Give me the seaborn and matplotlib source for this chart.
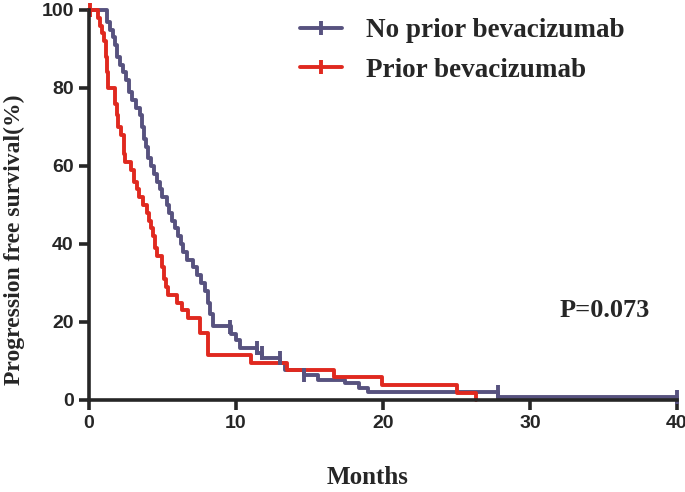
import pandas as pd
import matplotlib
matplotlib.use("Agg")
import matplotlib.pyplot as plt
from matplotlib.lines import Line2D
import seaborn as sns

# step points (months, % progression free)
no_prior_months = [0, 1.22, 1.43, 1.63, 1.77, 1.90, 2.11, 2.31, 2.52, 2.72, 2.93, 3.20,
                   3.47, 3.61, 3.74, 3.88, 4.01, 4.22, 4.42, 4.63, 4.83, 4.97, 5.31,
                   5.44, 5.65, 5.85, 6.05, 6.26, 6.39, 6.67, 7.07, 7.35, 7.62, 7.89,
                   8.10, 8.23, 8.44, 9.66, 10.0, 10.3, 11.4, 11.8, 13.0, 13.3, 14.6,
                   15.6, 17.4, 18.4, 19.0, 27.8, 40.0]
no_prior_surv = [100, 97, 95, 93, 91, 88, 86, 84, 82, 79, 77, 75,
                 73, 70, 67, 65, 62, 60, 58, 56, 54, 52, 50,
                 48, 46, 44, 42, 40, 38, 36, 34, 32, 30, 28,
                 25, 22, 19, 17, 15.4, 13.3, 12, 10.8, 9.5, 7.7, 6.4,
                 5.1, 4.4, 3.0, 2.0, 0.85, 0.85]

prior_months = [0, 0.61, 0.75, 0.88, 1.02, 1.16, 1.22, 1.29, 1.77, 1.90, 1.97, 2.18,
                2.38, 2.45, 2.86, 3.06, 3.27, 3.40, 3.67, 3.95, 4.08, 4.22, 4.35,
                4.49, 4.63, 4.97, 5.10, 5.24, 5.37, 5.99, 6.33, 6.73, 7.55, 8.10,
                11.0, 13.5, 16.7, 19.9, 25.0, 26.3]
prior_surv = [100, 98, 96, 94, 92, 88, 84, 80, 76, 73, 70, 68,
              63, 61, 59, 56, 54, 52, 50, 48, 46, 44, 42,
              39, 37, 34, 31, 29, 27, 25, 23, 21, 17.3, 11.5,
              9.6, 7.7, 5.8, 3.8, 1.9, 0]

# censored observations
no_prior_cens_x = [9.6, 11.4, 11.8, 13.0, 14.6, 27.8, 40.0]
no_prior_cens_y = [18.7, 13.3, 12.0, 10.8, 6.4, 2.0, 0.85]
prior_cens_x = [0.1]
prior_cens_y = [100]

blue = "#57527f"
red = "#e0291f"
lw = 2.8

sns.set_style("ticks")
plt.rcParams["font.family"] = ["Liberation Serif", "DejaVu Serif"]

df = pd.concat([
    pd.DataFrame({"months": no_prior_months, "surv": no_prior_surv, "group": "No prior bevacizumab"}),
    pd.DataFrame({"months": prior_months, "surv": prior_surv, "group": "Prior bevacizumab"}),
])

fig = plt.figure(figsize=(6.85, 4.92), dpi=100)
ax = fig.add_axes([89 / 685, 1 - 400 / 492, 588 / 685, 390 / 492])

sns.lineplot(data=df, x="months", y="surv", hue="group",
             palette={"No prior bevacizumab": blue, "Prior bevacizumab": red},
             estimator=None, sort=False, drawstyle="steps-post",
             linewidth=lw, legend=False, ax=ax, clip_on=False)
ax.plot(no_prior_cens_x, no_prior_cens_y, ls="none", marker="|", ms=10, mew=lw,
        color=blue, clip_on=False)
ax.plot(prior_cens_x, prior_cens_y, ls="none", marker="|", ms=10, mew=lw,
        color=red, clip_on=False)

ax.set_xlim(0, 40)
ax.set_ylim(0, 100)
ax.set_xticks([0, 10, 20, 30, 40])
ax.set_yticks([0, 20, 40, 60, 80, 100])
ax.set_xlabel("")
ax.set_ylabel("")
sns.despine(ax=ax)
for s in ["left", "bottom"]:
    ax.spines[s].set_linewidth(2.6)
ax.tick_params(length=7, width=2.6, pad=4)
for lab in ax.get_xticklabels() + ax.get_yticklabels():
    lab.set_family(["Liberation Sans Narrow", "Liberation Sans"])
    lab.set_fontweight("bold")
    lab.set_fontsize(14)

fig.text(368 / 685, 1 - 477 / 492, "Months", ha="center", va="center",
         fontsize=18, fontweight="bold")
fig.text(14 / 685, 1 - 240 / 492, "Progression free survival(%)", ha="center",
         va="center", rotation=90, fontsize=17, fontweight="bold")
ax.text(35.1, 23, "P=0.073", ha="center", va="center", fontsize=19, fontweight="bold")

handles = [Line2D([], [], color=blue, lw=lw, marker="|", ms=10, mew=lw),
           Line2D([], [], color=red, lw=lw, marker="|", ms=10, mew=lw)]
ax.legend(handles, ["No prior bevacizumab", "Prior bevacizumab"],
          loc="upper left", bbox_to_anchor=(300 / 685, 1 - 18 / 492),
          bbox_transform=fig.transFigure, frameon=False,
          prop={"weight": "bold", "size": 19.5}, handlelength=1.55,
          handletextpad=0.9, labelspacing=0.55, borderpad=0, borderaxespad=0)

plt.savefig("out.png", dpi=100)
